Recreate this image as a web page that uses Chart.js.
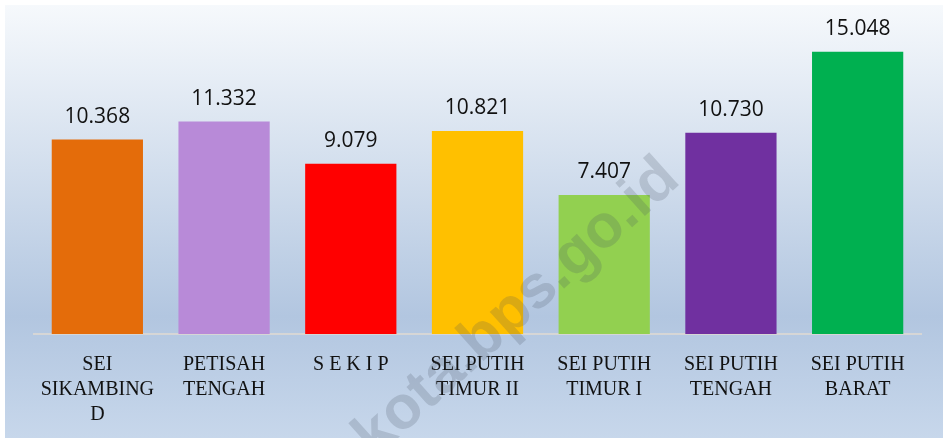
<!DOCTYPE html>
<html>
<head>
<meta charset="utf-8">
<script src="https://cdn.jsdelivr.net/npm/chart.js@4/dist/chart.umd.min.js"></script>
<style>
html,body{margin:0;padding:0;background:#ffffff;}
#wrap{position:relative;width:946px;height:438px;}
</style>
</head>
<body>
<div id="wrap"><canvas id="c" width="946" height="438"></canvas></div>
<script>
const categories = [
  ['SEI', 'SIKAMBING', 'D'],
  ['PETISAH', 'TENGAH'],
  ['S E K I P'],
  ['SEI PUTIH', 'TIMUR II'],
  ['SEI PUTIH', 'TIMUR I'],
  ['SEI PUTIH', 'TENGAH'],
  ['SEI PUTIH', 'BARAT']
];
const values = [10368, 11332, 9079, 10821, 7407, 10730, 15048];
const barColors = ['#E46C0A', '#B88AD8', '#FF0000', '#FFC000', '#92D050', '#7030A0', '#00B050'];
const yMax = 16000;
const watermarkText = 'medankota.bps.go.id';

function fmt(v) {
  return String(Math.round(v)).replace(/\B(?=(\d{3})+(?!\d))/g, '.');
}

const bgPlugin = {
  id: 'bg',
  beforeDraw(chart) {
    const ctx = chart.ctx;
    ctx.save();
    ctx.fillStyle = '#ffffff';
    ctx.fillRect(0, 0, chart.width, chart.height);
    const g = ctx.createLinearGradient(0, 5, 0, 438);
    g.addColorStop(0, '#f6f9fc');
    g.addColorStop(0.72, '#b2c6e0');
    g.addColorStop(1, '#c7d7eb');
    ctx.fillStyle = g;
    ctx.fillRect(5, 5, 938, 433);
    ctx.restore();
  }
};

const labelPlugin = {
  id: 'valueLabels',
  afterDatasetsDraw(chart) {
    const ctx = chart.ctx;
    const meta = chart.getDatasetMeta(0);
    ctx.save();
    ctx.font = '21px "Open Sans", "Liberation Sans", sans-serif';
    ctx.fillStyle = '#111111';
    ctx.textAlign = 'center';
    ctx.textBaseline = 'alphabetic';
    meta.data.forEach((bar, i) => {
      ctx.fillText(fmt(values[i]), bar.x, bar.y - 17);
    });
    ctx.restore();
  }
};

const watermarkPlugin = {
  id: 'watermark',
  afterDraw(chart) {
    const ctx = chart.ctx;
    ctx.save();
    ctx.translate(444, 374);
    ctx.rotate(-42 * Math.PI / 180);
    ctx.font = 'bold 61px "Liberation Sans", sans-serif';
    ctx.fillStyle = 'rgba(70,80,95,0.2)';
    ctx.textAlign = 'center';
    ctx.textBaseline = 'middle';
    ctx.fillText(watermarkText, 0, 0);
    ctx.restore();
  }
};

new Chart(document.getElementById('c'), {
  type: 'bar',
  data: {
    labels: categories,
    datasets: [{
      data: values,
      backgroundColor: barColors,
      borderWidth: 0,
      barPercentage: 0.72,
      categoryPercentage: 1.0
    }]
  },
  options: {
    responsive: false,
    animation: false,
    events: [],
    layout: { padding: { left: 34, right: 25, top: 34, bottom: -7 } },
    plugins: {
      legend: { display: false },
      tooltip: { enabled: false },
      title: { display: false }
    },
    scales: {
      x: {
        grid: { display: false, drawTicks: false },
        border: { display: true, color: '#d6d6d6', width: 2 },
        ticks: {
          color: '#111111',
          padding: 18,
          maxRotation: 0,
          autoSkip: false,
          font: { family: '"Liberation Serif", "Times New Roman", serif', size: 20, lineHeight: 1.25 }
        }
      },
      y: {
        display: false,
        min: 0,
        max: yMax,
        grid: { display: false }
      }
    }
  },
  plugins: [bgPlugin, labelPlugin, watermarkPlugin]
});
</script>
</body>
</html>
